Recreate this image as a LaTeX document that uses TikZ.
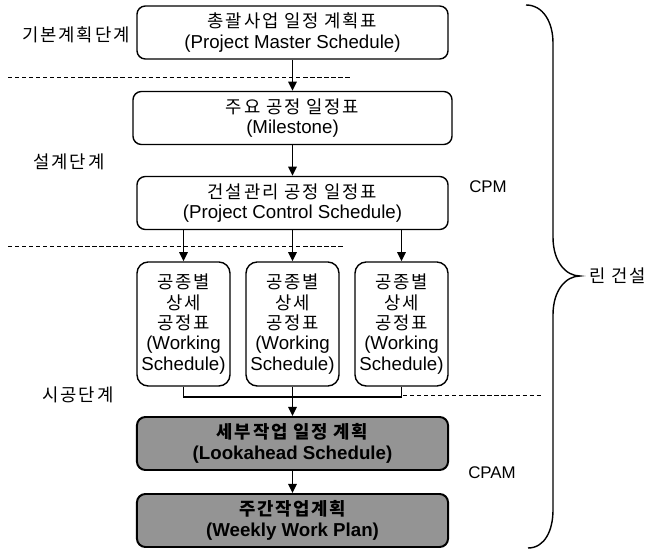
\documentclass[tikz,border=0pt]{standalone}
\usepackage{fontspec}
\setmainfont{Liberation Sans}
\newfontfamily\kr[Scale=0.95,LetterSpace=10]{Noto Sans CJK KR}
\usetikzlibrary{arrows.meta}

\begin{document}
\begin{tikzpicture}[x=0.025cm,y=-0.025cm,
    plan/.style={draw,line width=1pt,rounded corners=6pt,
        minimum width=7.775cm,minimum height=1.325cm,align=center,
        inner sep=0pt,font=\fontsize{13.3}{14.5}\selectfont},
    work/.style={plan,minimum width=2.325cm,minimum height=3.1cm,rounded corners=8pt},
    graybox/.style={plan,fill=black!42,line width=1.4pt,
        font=\fontsize{13.3}{14.5}\selectfont\bfseries},
    phase/.style={font=\fontsize{13.3}{16}\selectfont\kr},
    method/.style={font=\fontsize{12}{14}\selectfont},
    flow/.style={->,>={Triangle[length=6.5pt,width=6pt]},draw,line width=1.1pt},
    sep/.style={line width=0.6pt,dash pattern=on 3pt off 2pt}
]
    \useasboundingbox (0,0) rectangle (659,550);

    \node[plan] (master) at (292.5,32.5)
        {{\kr 총괄사업 일정 계획표}\\(Project Master Schedule)};
    \node[plan,minimum width=7.975cm] (milestone) at (292.5,118)
        {{\kr 주요 공정 일정표}\\(Milestone)};
    \node[plan] (control) at (292.5,203)
        {{\kr 건설관리 공정 일정표}\\(Project Control Schedule)};
    \node[work] (workA) at (183.5,324)
        {{\kr 공종별}\\{\kr 상세}\\{\kr 공정표}\\(Working\\Schedule)};
    \node[work] (workB) at (292.5,324)
        {{\kr 공종별}\\{\kr 상세}\\{\kr 공정표}\\(Working\\Schedule)};
    \node[work] (workC) at (401.5,324)
        {{\kr 공종별}\\{\kr 상세}\\{\kr 공정표}\\(Working\\Schedule)};
    \node[graybox] (lookahead) at (292.5,443.5)
        {{\kr 세부작업 일정 계획}\\(Lookahead Schedule)};
    \node[graybox] (weekly) at (292.5,520.5)
        {{\kr 주간작업계획}\\(Weekly Work Plan)};

    % phases and methods
    \node[phase] (basic) at (76,35) {기본계획단계};
    \node[phase] (design) at (69,162) {설계단계};
    \node[phase] (build) at (78,395) {시공단계};
    \node[method] (cpm) at (488,187) {CPM};
    \node[method] (cpam) at (492,473) {CPAM};
    \node[phase] (leancon) at (618,276) {린 건설};

    \draw[sep] (8,77) -- (350,77);
    \draw[sep] (8,246) -- (345,246);
    \draw[sep] (403,395) -- (543,395);

    \draw[flow] (master) -- (milestone);
    \draw[flow] (milestone) -- (control);
    \draw[flow] (control.south -| workA) -- (workA);
    \draw[flow] (control.south -| workB) -- (workB);
    \draw[flow] (control.south -| workC) -- (workC);
    \coordinate (join) at (292.5,397);
    \draw[line width=1.1pt] (workA.south) |- (join) -| (workC.south);
    \draw[flow] (workB) -- (lookahead);
    \draw[flow] (lookahead) -- (weekly);

    % brace
    \coordinate (tip) at (580,276);
    \draw[line width=1pt] (526,5) .. controls (543,5) and (553,22) .. (553,43)
        -- (553,237) .. controls (553,262) and (566,276) .. (tip)
        .. controls (566,276) and (553,290) .. (553,315)
        -- (553,510) .. controls (553,530) and (545,548) .. (528,548);
\end{tikzpicture}
\end{document}
